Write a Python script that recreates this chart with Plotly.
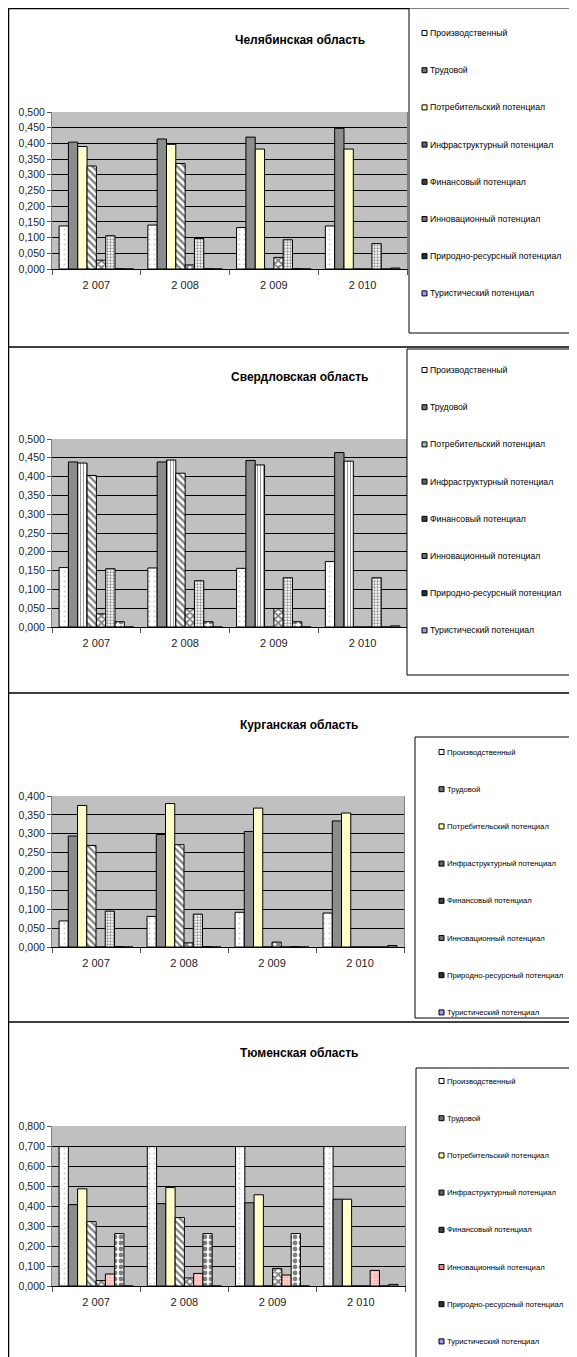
import plotly.graph_objects as go

# the page is drawn with an 8px body margin, so the figure is sized to fit the window
OFF = 8
W, H = 577 - OFF, 1357 - OFF

years = ["2 007", "2 008", "2 009", "2 010"]
series_names = [
    "Производственный",
    "Трудовой",
    "Потребительский потенциал",
    "Инфраструктурный потенциал",
    "Финансовый потенциал",
    "Инновационный потенциал",
    "Природно-ресурсный потенциал",
    "Туристический потенциал",
]
region_titles = ["Челябинская область", "Свердловская область",
                 "Курганская область", "Тюменская область"]

# values: one row per series, one value per year
chelyabinsk = [
    [0.137, 0.140, 0.132, 0.137],
    [0.404, 0.414, 0.420, 0.448],
    [0.390, 0.397, 0.382, 0.382],
    [0.328, 0.336, 0.0, 0.0],
    [0.028, 0.013, 0.037, 0.0],
    [0.106, 0.097, 0.093, 0.081],
    [0.001, 0.001, 0.001, 0.0],
    [0.0, 0.0, 0.0, 0.003],
]
sverdlovsk = [
    [0.158, 0.157, 0.156, 0.174],
    [0.439, 0.439, 0.443, 0.464],
    [0.436, 0.444, 0.431, 0.441],
    [0.403, 0.409, 0.0, 0.0],
    [0.035, 0.049, 0.049, 0.0],
    [0.155, 0.123, 0.131, 0.131],
    [0.014, 0.014, 0.014, 0.0],
    [0.0, 0.0, 0.0, 0.003],
]
kurgan = [
    [0.069, 0.081, 0.092, 0.090],
    [0.294, 0.298, 0.306, 0.334],
    [0.375, 0.380, 0.368, 0.355],
    [0.269, 0.271, 0.0, 0.0],
    [0.0, 0.011, 0.013, 0.0],
    [0.095, 0.087, 0.0, 0.0],
    [0.001, 0.001, 0.001, 0.0],
    [0.0, 0.0, 0.0, 0.004],
]
tyumen = [
    [0.697, 0.697, 0.697, 0.697],
    [0.407, 0.412, 0.416, 0.434],
    [0.486, 0.492, 0.456, 0.434],
    [0.322, 0.342, 0.0, 0.0],
    [0.027, 0.040, 0.088, 0.0],
    [0.060, 0.063, 0.055, 0.078],
    [0.262, 0.262, 0.262, 0.0],
    [0.0, 0.0, 0.0, 0.008],
]
regions = [chelyabinsk, sverdlovsk, kurgan, tyumen]
y_max = [0.5, 0.5, 0.4, 0.8]
y_step = [0.05, 0.05, 0.05, 0.1]

# ---------- styles ----------
def pat(shape, fg, bg, size, sol):
    return dict(shape=shape, fgcolor=fg, bgcolor=bg, size=size, solidity=sol, fillmode="overlay")

st_prod = dict(color="white", swatch="white", pattern=pat(".", "#9a9a9a", "white", 5, 0.12))
st_trud = dict(color="#939393", swatch="#707070", pattern=pat("-", "#606060", "#999999", 2, 0.45))
st_potr_y = dict(color="#FFFFCC", swatch="#FFFF99")
st_potr_v = dict(color="white", swatch="#B0B0B0", pattern=pat("|", "#333333", "white", 3, 0.35))
st_infra = dict(color="white", swatch="#606060", pattern=pat("\\", "black", "white", 5, 0.45))
st_fin = dict(color="white", swatch="#404040", pattern=pat("x", "black", "white", 5, 0.6))
st_innov = dict(color="white", swatch="#707070", pattern=pat(".", "#222222", "white", 3, 0.45))
st_innov_p = dict(color="#FFCCCC", swatch="#FF8080", pattern=pat(".", "#FF7f7f", "#FFD0D0", 3, 0.3))
st_prir = dict(color="white", swatch="#303030", pattern=pat(".", "black", "white", 6, 0.5))
st_tur = dict(color="#CCCCFF", swatch="#9999FF")

panel_styles = [
    [st_prod, st_trud, st_potr_y, st_infra, st_fin, st_innov, st_prir, st_tur],
    [st_prod, st_trud, st_potr_v, st_infra, st_fin, st_innov, st_prir, st_tur],
    [st_prod, st_trud, st_potr_y, st_infra, st_fin, st_innov, st_prir, st_tur],
    [st_prod, st_trud, st_potr_y, st_infra, st_fin, st_innov_p, st_prir, st_tur],
]

# pixel geometry in window coordinates
plot_px = [(52, 407, 112, 269), (52, 407, 439, 627), (52, 404, 796, 947), (52, 405, 1126, 1286)]
title_px = [(300, 40), (299, 377), (299, 725), (299, 1053)]
legend_box_px = [(409, 8, 575, 333), (407, 349, 585, 675), (415, 737, 576, 1018), (416, 1068, 576, 1370)]
legend_item_px = [(422, 33), (422, 370), (439, 752), (439, 1081)]
legend_font = [8.7, 8.7, 7.7, 7.7]
ITEM_STEP = 37.2

def px(x):
    return (x - OFF) / W

def py(y):
    return 1 - (y - OFF) / H

FONT = "Liberation Sans Narrow, Arial Narrow, Liberation Sans, Arial, sans-serif"

fig = go.Figure()
layout = {}
for p in range(4):
    ax = "" if p == 0 else str(p + 1)
    for s in range(8):
        sty = panel_styles[p][s]
        marker = dict(color=sty["color"], line=dict(color="black", width=1))
        if "pattern" in sty:
            marker["pattern"] = sty["pattern"]
        fig.add_trace(go.Bar(
            x=years, y=regions[p][s], name=series_names[s],
            marker=marker, xaxis="x" + ax, yaxis="y" + ax, showlegend=False,
        ))
    x0, x1, yt, yb = plot_px[p]
    layout["xaxis" + ax] = dict(
        domain=[px(x0), px(x1)], anchor="y" + ax, type="category",
        showline=True, linecolor="black", linewidth=1,
        ticks="outside", tickson="boundaries", ticklen=5, tickcolor="#555555",
        tickfont=dict(family=FONT, size=11, color="#222222"),
        ticklabelstandoff=6, showgrid=False, fixedrange=True,
    )
    layout["yaxis" + ax] = dict(
        domain=[py(yb), py(yt)], anchor="x" + ax, range=[0, y_max[p]],
        dtick=y_step[p], tick0=0, tickformat=".3f",
        showgrid=True, gridcolor="black", gridwidth=1,
        showline=True, linecolor="#7f7f7f", linewidth=1, mirror=True,
        ticks="outside", ticklen=4, tickcolor="#555555",
        tickfont=dict(family=FONT, size=10.5, color="#222222"),
        zeroline=False, fixedrange=True,
    )

annotations = []
shapes = [dict(type="line", xref="paper", yref="paper", x0=px(8.5), x1=px(8.5),
               y0=py(8), y1=py(1360), line=dict(color="black", width=1.5))]
for yb in [8.5, 347, 693, 1022]:
    shapes.append(dict(type="line", xref="paper", yref="paper", x0=px(8), x1=px(580),
                       y0=py(yb), y1=py(yb), line=dict(color="black", width=1.5)))

for p in range(4):
    tx, ty = title_px[p]
    annotations.append(dict(
        x=px(tx), y=py(ty), xref="paper", yref="paper", showarrow=False,
        text="<b>" + region_titles[p] + "</b>", xanchor="center", yanchor="middle",
        font=dict(family=FONT, size=12, color="black"),
    ))
    # legend box
    bx0, by0, bx1, by1 = legend_box_px[p]
    shapes.append(dict(type="rect", xref="paper", yref="paper",
                       x0=px(bx0), x1=px(bx1), y0=py(by1), y1=py(by0),
                       line=dict(color="black", width=1), fillcolor="white"))
    sx, sy = legend_item_px[p]
    for s in range(8):
        yc = sy + s * ITEM_STEP
        shapes.append(dict(type="rect", xref="paper", yref="paper",
                           x0=px(sx), x1=px(sx + 5), y0=py(yc + 2.5), y1=py(yc - 2.5),
                           line=dict(color="black", width=1),
                           fillcolor=panel_styles[p][s]["swatch"]))
        annotations.append(dict(
            x=px(sx + 6), y=py(yc), xref="paper", yref="paper", showarrow=False,
            text=series_names[s], xanchor="left", yanchor="middle",
            font=dict(family=FONT, size=legend_font[p], color="black"),
        ))

fig.update_layout(
    **layout,
    width=W, height=H, margin=dict(l=0, r=0, t=0, b=0, autoexpand=False),
    paper_bgcolor="white", plot_bgcolor="#C0C0C0",
    barmode="group", bargap=0.16, bargroupgap=0,
    separators=", ", annotations=annotations, shapes=shapes,
    font=dict(family=FONT), showlegend=False,
)

fig.write_html("out.html")
